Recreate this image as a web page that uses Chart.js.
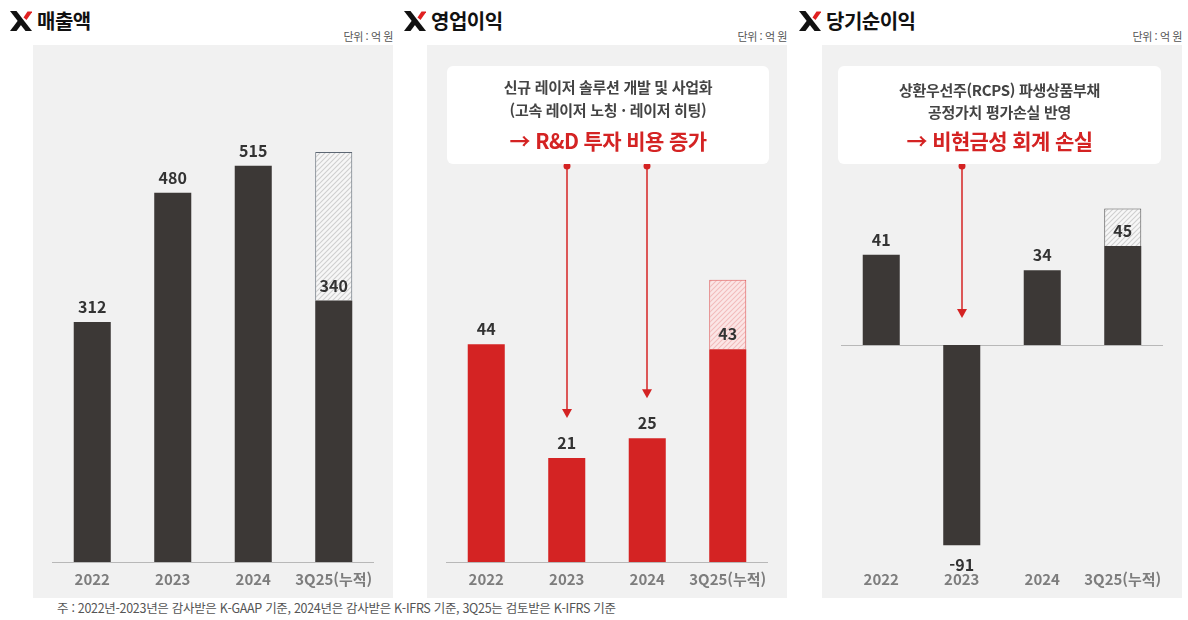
<!DOCTYPE html>
<html lang="ko">
<head>
<meta charset="utf-8">
<script src="https://cdn.jsdelivr.net/npm/chart.js@4.4.1/dist/chart.umd.min.js"></script>
<style>
  body { margin: 0; background: #fff; font-family: "Noto Sans CJK KR", "Noto Sans", sans-serif; }
  .page { position: relative; width: 1188px; height: 620px; overflow: hidden; }
  .title { position: absolute; top: 6px; font-size: 20px; font-weight: 700; color: #111; display: flex; align-items: center; letter-spacing: -0.5px; }
  .title svg { margin-right: 5px; }
  .unit { position: absolute; top: 28px; width: 360px; text-align: right; font-size: 11px; color: #555; letter-spacing: -0.4px; }
  .panel { position: absolute; top: 45px; width: 360px; height: 553px; background: #f1f1f1; }
  .panel canvas { position: absolute; left: 0; top: 0; }
  .note { position: absolute; top: 21px; height: 98px; background: #fff; border-radius: 6px; text-align: center; }
  .note div { position: absolute; left: 0; right: 0; white-space: nowrap; }
  .note .l1, .note .l2 { font-size: 15px; line-height: 18px; font-weight: 700; color: #444; letter-spacing: -0.3px; }
  .note .hl { font-size: 21px; line-height: 26px; font-weight: 700; color: #d42323; letter-spacing: -0.6px; }
  .foot { position: absolute; left: 57px; top: 598px; font-size: 12.5px; color: #555; letter-spacing: -0.3px; white-space: nowrap; }
</style>
</head>
<body>
<div class="page">
  <div class="title" style="left:10px"><svg width="22" height="20" viewBox="0 0 22 20"><polygon points="0,0 6.5,0 22,20 15.5,20" fill="#111"/><polygon points="0,20 6.5,20 12.5,12 9.3,7.8" fill="#111"/><polygon points="13.5,6.5 17.5,0.5 22.5,0.5 16.5,9" fill="#e02020"/></svg>매출액</div>
  <div class="unit" style="left:33px">단위 : 억 원</div>
  <div class="title" style="left:404px"><svg width="22" height="20" viewBox="0 0 22 20"><polygon points="0,0 6.5,0 22,20 15.5,20" fill="#111"/><polygon points="0,20 6.5,20 12.5,12 9.3,7.8" fill="#111"/><polygon points="13.5,6.5 17.5,0.5 22.5,0.5 16.5,9" fill="#e02020"/></svg>영업이익</div>
  <div class="unit" style="left:427px">단위 : 억 원</div>
  <div class="title" style="left:799px"><svg width="22" height="20" viewBox="0 0 22 20"><polygon points="0,0 6.5,0 22,20 15.5,20" fill="#111"/><polygon points="0,20 6.5,20 12.5,12 9.3,7.8" fill="#111"/><polygon points="13.5,6.5 17.5,0.5 22.5,0.5 16.5,9" fill="#e02020"/></svg>당기순이익</div>
  <div class="unit" style="left:822px">단위 : 억 원</div>

  <div class="panel" style="left:33px"><canvas id="sales" width="360" height="553"></canvas></div>
  <div class="panel" style="left:427px">
    <canvas id="op" width="360" height="553"></canvas>
    <div class="note" style="left:20px;width:322px">
      <div class="l1" style="top:12px">신규 레이저 솔루션 개발 및 사업화</div>
      <div class="l2" style="top:35px">(고속 레이저 노칭 · 레이저 히팅)</div>
      <div class="hl" style="top:61px">→ R&amp;D 투자 비용 증가</div>
    </div>
  </div>
  <div class="panel" style="left:822px">
    <canvas id="net" width="360" height="553"></canvas>
    <div class="note" style="left:16px;width:323px">
      <div class="l1" style="top:15px">상환우선주(RCPS) 파생상품부채</div>
      <div class="l2" style="top:37px">공정가치 평가손실 반영</div>
      <div class="hl" style="top:61px">→ 비현금성 회계 손실</div>
    </div>
  </div>
  <div class="foot">주 : 2022년-2023년은 감사받은 K-GAAP 기준, 2024년은 감사받은 K-IFRS 기준, 3Q25는 검토받은 K-IFRS 기준</div>
</div>
<script>
const categories = ['2022', '2023', '2024', '3Q25(누적)'];

// 억 원
const salesActual = [312, 480, 515, 340];
const salesHatch = [null, null, null, 193];
const opActual = [44, 21, 25, 43];
const opHatch = [null, null, null, 14];
const netActual = [41, -91, 34, 45];
const netHatch = [null, null, null, 17];

Chart.defaults.font.family = '"Noto Sans CJK KR", "Noto Sans", sans-serif';

function hatch(bg, line) {
    const c = document.createElement('canvas');
    c.width = 5; c.height = 5;
    const x = c.getContext('2d');
    x.fillStyle = bg;
    x.fillRect(0, 0, 5, 5);
    x.strokeStyle = line;
    x.lineWidth = 1.1;
    x.beginPath();
    x.moveTo(0, 5); x.lineTo(5, 0);
    x.moveTo(-1, 1); x.lineTo(1, -1);
    x.moveTo(4, 6); x.lineTo(6, 4);
    x.stroke();
    return x.createPattern(c, 'repeat');
}

const barExtras = {
    id: 'barExtras',
    beforeDatasetsDraw(chart) {
        const ctx = chart.ctx;
        const { left, right } = chart.chartArea;
        const y0 = Math.round(chart.scales.y.getPixelForValue(0)) + 0.5;
        ctx.save();
        ctx.strokeStyle = '#b8b8b8';
        ctx.lineWidth = 1;
        ctx.beginPath();
        ctx.moveTo(left, y0);
        ctx.lineTo(right, y0);
        ctx.stroke();
        ctx.restore();
    },
    afterDatasetsDraw(chart, args, opts) {
        const ctx = chart.ctx;
        const values = chart.data.datasets[0].data;
        ctx.save();
        ctx.font = 'bold 16px "Noto Sans CJK KR", "Noto Sans", sans-serif';
        ctx.fillStyle = '#333';
        ctx.textAlign = 'center';
        ctx.textBaseline = 'middle';
        chart.getDatasetMeta(0).data.forEach((bar, i) => {
            const v = values[i];
            ctx.fillText(String(v), bar.x, v >= 0 ? bar.y - 15 : bar.y + 20);
        });
        // arrows from the note box down to the bars
        ctx.strokeStyle = '#d42323';
        ctx.fillStyle = '#d42323';
        ctx.lineWidth = 1.5;
        (opts.arrows || []).forEach(i => {
            const ax = Math.round(chart.scales.x.getPixelForValue(i));
            const tip = chart.scales.y.getPixelForValue(Math.max(values[i], 0)) - opts.gap;
            ctx.beginPath();
            ctx.arc(ax, opts.top, 3.5, 0, Math.PI * 2);
            ctx.fill();
            ctx.beginPath();
            ctx.moveTo(ax, opts.top);
            ctx.lineTo(ax, tip - 6);
            ctx.stroke();
            ctx.beginPath();
            ctx.moveTo(ax - 5, tip - 9);
            ctx.lineTo(ax + 5, tip - 9);
            ctx.lineTo(ax, tip);
            ctx.closePath();
            ctx.fill();
        });
        ctx.restore();
    }
};

function makeChart(id, actual, extra, colour, pattern, edge, yMin, yMax, extras) {
    return new Chart(document.getElementById(id), {
        type: 'bar',
        data: {
            labels: categories,
            datasets: [{
                data: actual,
                backgroundColor: colour,
                borderWidth: 0,
                barPercentage: 0.46,
                categoryPercentage: 1
            }, {
                data: extra,
                backgroundColor: pattern,
                borderColor: edge,
                borderWidth: 1,
                barPercentage: 0.46,
                categoryPercentage: 1
            }]
        },
        options: {
            responsive: false,
            animation: false,
            devicePixelRatio: 1,
            layout: { padding: { top: 17, left: 19, right: 19, bottom: 10 } },
            scales: {
                x: {
                    stacked: true,
                    grid: { display: false },
                    border: { display: false },
                    ticks: {
                        color: '#7d7d7d',
                        font: { size: 15, weight: 'bold' },
                        padding: 0,
                        maxRotation: 0,
                        autoSkip: false
                    }
                },
                y: { stacked: true, display: false, min: yMin, max: yMax }
            },
            plugins: {
                legend: { display: false },
                tooltip: { enabled: false },
                barExtras: extras
            }
        },
        plugins: [barExtras]
    });
}

makeChart('sales', salesActual, salesHatch, '#3c3836', hatch('#f7f7f7', '#cfcfcf'), '#5d6773', 0, 650, {});
makeChart('op', opActual, opHatch, '#d42323', hatch('#fbe6e6', '#f2bcbc'), '#e05a5a', 0, 101, { arrows: [1, 2], top: 121, gap: 40 });
makeChart('net', netActual, netHatch, '#3c3836', hatch('#f7f7f7', '#cfcfcf'), '#555', -98.6, 128.6, { arrows: [1], top: 121, gap: 27 });
</script>
</body>
</html>
